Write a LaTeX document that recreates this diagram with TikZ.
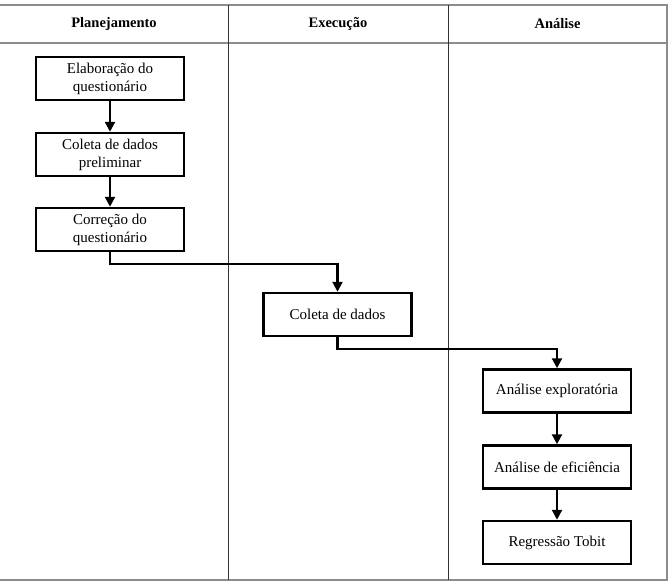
\documentclass[tikz,border=0pt]{standalone}
\usepackage{fontspec}
\setmainfont{Liberation Serif}
\usetikzlibrary{arrows.meta}
\begin{document}
\begin{tikzpicture}[x=1pt,y=-1pt,
  frame/.style={draw=black!45,line width=1.8pt},
  lane/.style={draw=black!80,line width=0.9pt},
  head/.style={font=\fontsize{14.5}{17}\selectfont\bfseries,inner sep=0pt},
  stepbox/.style={draw,line width=2.5pt,minimum width=148,minimum height=43,inner sep=1pt,align=center,font=\fontsize{15}{18}\selectfont},
  flow/.style={line width=2.2pt,-{Triangle[length=10,width=10]}}]
\useasboundingbox (0,0) rectangle (669,582);
% frame
\draw[frame] (0,5) -- (667,5) -- (667,580) -- (0,580);
\draw[frame] (0,43) -- (667,43);
\draw[lane] (228,5) -- (228,580);
\draw[lane] (448,5) -- (448,580);
% headers
\node[head] (h1) at (114,24) {Planejamento};
\node[head] (h2) at (338,24) {Execução};
\node[head] (h3) at (557.5,24) {Análise};
% boxes
\node[stepbox] (b1) at (110,78.5) {Elaboração do\\questionário};
\node[stepbox] (b2) at (110,154.5) {Coleta de dados\\preliminar};
\node[stepbox] (b3) at (110,229.5) {Correção do\\questionário};
\node[stepbox] (b4) at (337.5,314.5) {Coleta de dados};
\node[stepbox] (b5) at (557,391) {Análise exploratória};
\node[stepbox] (b6) at (557,467) {Análise de eficiência};
\node[stepbox] (b7) at (557,542.5) {Regressão Tobit};
% connectors
\coordinate (m1) at (0,264);
\coordinate (m2) at (0,349);
\draw[flow] (b1) -- (b2);
\draw[flow] (b2) -- (b3);
\draw[flow] (b3.south) -- (b3.south |- m1) -| (b4.north);
\draw[flow] (b4.south) -- (b4.south |- m2) -| (b5.north);
\draw[flow] (b5) -- (b6);
\draw[flow] (b6) -- (b7);
\end{tikzpicture}
\end{document}
